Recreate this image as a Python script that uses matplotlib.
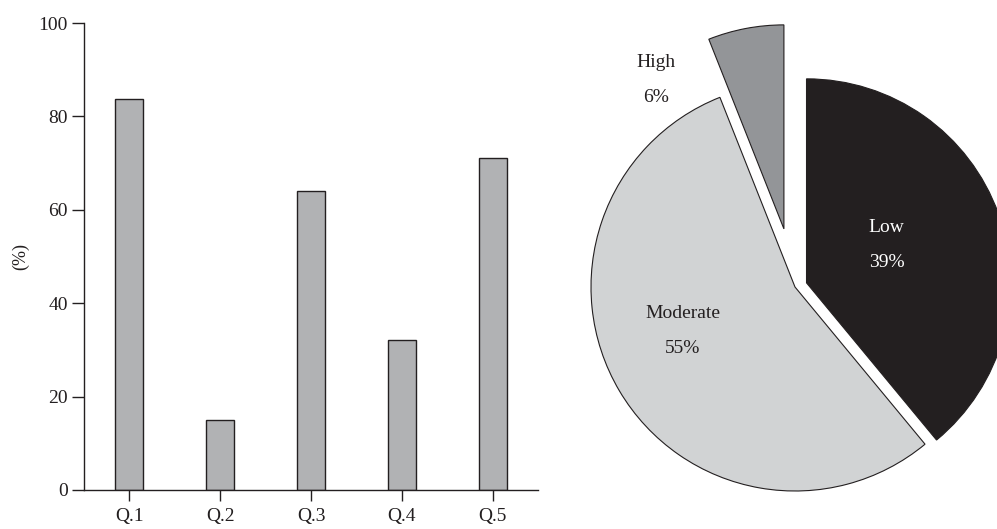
import numpy as np
import matplotlib.pyplot as plt

# bar chart data
questions = ["Q.1", "Q.2", "Q.3", "Q.4", "Q.5"]
percent_yes = [83.7, 14.9, 64.0, 32.2, 71.1]
y_ticks = [0, 20, 40, 60, 80, 100]

# pie chart data
levels = ["Low", "Moderate", "High"]
level_share = [39, 55, 6]
level_colors = ["#231f20", "#d1d3d4", "#939598"]
level_explode = [0.06, 0.0, 0.29]

INK = "#231f20"
W, H = 997, 529

plt.rcParams["font.family"] = ["Liberation Serif", "DejaVu Serif"]

fig = plt.figure(figsize=(W / 100, H / 100), dpi=100)

# ---- bar chart ----
ax = fig.add_axes([84 / W, 39 / H, (538 - 84) / W, (506 - 39) / H])
x = np.arange(len(questions))
ax.bar(x, percent_yes, width=0.31, color="#b1b2b4", edgecolor=INK, linewidth=1.0, zorder=2)
ax.set_xlim(-0.5, 4.5)
ax.set_ylim(0, 100)
ax.set_xticks(x)
ax.set_xticklabels(questions)
ax.set_yticks(y_ticks)
for s in ["top", "right"]:
    ax.spines[s].set_visible(False)
for s in ["left", "bottom"]:
    ax.spines[s].set_color(INK)
    ax.spines[s].set_linewidth(1.0)
ax.tick_params(axis="y", direction="out", length=8.6, width=1.0, color=INK,
               labelsize=14, labelcolor=INK, pad=3)
ax.tick_params(axis="x", direction="out", length=8, width=1.0, color=INK,
               labelsize=14, labelcolor=INK, pad=5)
ax.set_ylabel("(%)", fontsize=13, color=INK)
ax.yaxis.set_label_coords(-0.12, 0.5)

# ---- pie chart ----
r = 204  # pixel radius
cx, cy = 795, H - 287
pax = fig.add_axes([(cx - 1.5 * r) / W, (cy - 1.5 * r) / H, 3 * r / W, 3 * r / H])
pax.pie(level_share, colors=level_colors, explode=level_explode, startangle=90,
        counterclock=False, wedgeprops=dict(edgecolor=INK, linewidth=0.8))
pax.set_xlim(-1.5, 1.5)
pax.set_ylim(-1.5, 1.5)
pax.set_aspect("auto")
pax.axis("off")

label_pos = {"Low": (0.45, 0.29, 0.12, "white"),
             "Moderate": (-0.55, -0.13, -0.30, INK),
             "High": (-0.68, 1.10, 0.93, INK)}
for name, share in zip(levels, level_share):
    lx, ly1, ly2, c = label_pos[name]
    pax.text(lx, ly1, name, ha="center", va="center", fontsize=14, color=c)
    pax.text(lx, ly2, f"{share}%", ha="center", va="center", fontsize=14, color=c)

fig.savefig("out.png", dpi=100)
